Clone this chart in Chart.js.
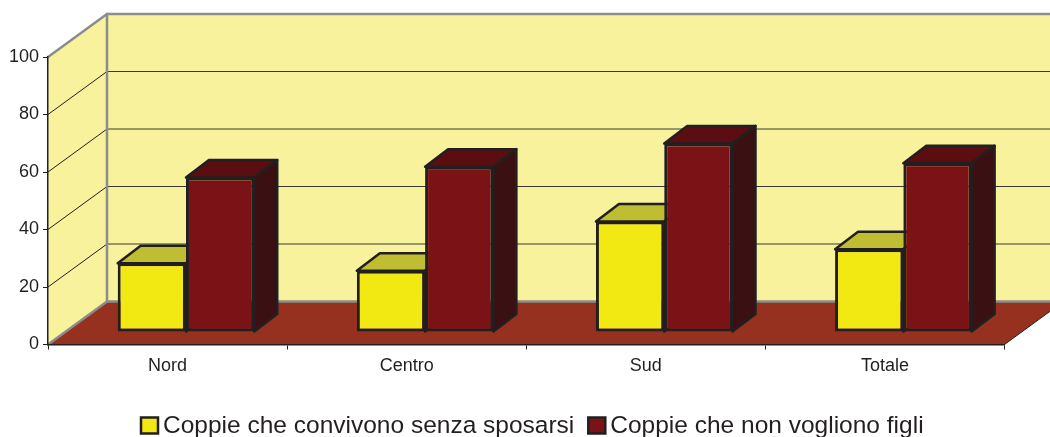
<!DOCTYPE html>
<html>
<head>
<meta charset="utf-8">
<script src="https://cdn.jsdelivr.net/npm/chart.js@4.4.1/dist/chart.umd.min.js"></script>
<style>
html, body { margin: 0; padding: 0; background: #fff; }
canvas { display: block; }
</style>
</head>
<body>
<canvas id="chart" width="1050" height="437"></canvas>
<script>
const categories = ['Nord', 'Centro', 'Sud', 'Totale'];
const conviventi = [23.9, 21.3, 38.4, 28.8];
const senzaFigli = [53.7, 57.5, 65.6, 58.7];
const yTicks = [0, 20, 40, 60, 80, 100];
const seriesNames = ['Coppie che convivono senza sposarsi', 'Coppie che non vogliono figli'];

const FONT = '"Liberation Sans", Arial, sans-serif';
const INK = '#231F20';
const fills = ['#F3E912', '#7B1316'];
const tops = ['#BFBE33', '#5A0E11'];
const sides = ['#A59F10', '#3A1012'];

// 3d look: wall depth, how far back the bars stand, bar thickness
const DEPTH_X = 59, DEPTH_Y = 43;
const SHIFT_X = 18.4, SHIFT_Y = 12.5;
const BAR_DX = 23, BAR_DY = 17.5;

function poly(ctx, pts, fill, stroke, lw) {
    ctx.beginPath();
    ctx.moveTo(pts[0][0], pts[0][1]);
    for (let i = 1; i < pts.length; i++) ctx.lineTo(pts[i][0], pts[i][1]);
    ctx.closePath();
    if (fill) { ctx.fillStyle = fill; ctx.fill(); }
    if (stroke) { ctx.strokeStyle = stroke; ctx.lineWidth = lw; ctx.stroke(); }
}

function line(ctx, x1, y1, x2, y2, color, lw) {
    ctx.beginPath();
    ctx.moveTo(x1, y1);
    ctx.lineTo(x2, y2);
    ctx.strokeStyle = color;
    ctx.lineWidth = lw;
    ctx.stroke();
}

const walls = {
    id: 'walls',
    beforeDraw(chart) {
        const ctx = chart.ctx;
        const a = chart.chartArea;
        const ys = chart.scales.y;
        const L = a.left, R = a.right;
        const y0 = ys.getPixelForValue(0), yTop = ys.getPixelForValue(100);
        const far = chart.width + 20;
        ctx.save();
        // back wall + left wall
        poly(ctx, [[L + DEPTH_X, yTop - DEPTH_Y], [far, yTop - DEPTH_Y], [far, y0 - DEPTH_Y], [L + DEPTH_X, y0 - DEPTH_Y]], '#F7F29B');
        poly(ctx, [[L, yTop], [L + DEPTH_X, yTop - DEPTH_Y], [L + DEPTH_X, y0 - DEPTH_Y], [L, y0]], '#F7F29B');
        // floor
        poly(ctx, [[L, y0], [L + DEPTH_X, y0 - DEPTH_Y], [R + DEPTH_X, y0 - DEPTH_Y], [R, y0]], '#97311F');
        line(ctx, R, y0, R + DEPTH_X, y0 - DEPTH_Y, INK, 1);
        // gridlines on the walls
        yTicks.forEach(v => {
            if (v === 0 || v === 100) return;
            const y = ys.getPixelForValue(v);
            line(ctx, L, y, L + DEPTH_X, y - DEPTH_Y, INK, 1);
            line(ctx, L + DEPTH_X, y - DEPTH_Y, far, y - DEPTH_Y, '#3a3a30', 1);
        });
        // grey frame
        ctx.lineCap = 'round';
        line(ctx, L, yTop, L + DEPTH_X, yTop - DEPTH_Y, '#8C8C8C', 2.5);
        line(ctx, L + DEPTH_X, yTop - DEPTH_Y, far, yTop - DEPTH_Y, '#8C8C8C', 2.5);
        line(ctx, L + DEPTH_X, yTop - DEPTH_Y, L + DEPTH_X, y0 - DEPTH_Y, '#8C8C8C', 2.5);
        line(ctx, L, y0, L + DEPTH_X, y0 - DEPTH_Y, '#8C8C8C', 2.5);
        line(ctx, L + DEPTH_X, y0 - DEPTH_Y, R + DEPTH_X, y0 - DEPTH_Y, '#8C8C8C', 2.5);
        ctx.restore();
    },
    beforeDatasetsDraw(chart) {
        const ctx = chart.ctx;
        ctx.save();
        ctx.translate(SHIFT_X, -SHIFT_Y);
        ctx.lineJoin = 'round';
        // tops and sides first, the front faces from Chart.js cover what is hidden
        chart.data.datasets.forEach((ds, i) => {
            chart.getDatasetMeta(i).data.forEach(bar => {
                const left = bar.x - bar.width / 2, right = bar.x + bar.width / 2;
                const top = Math.min(bar.y, bar.base), base = Math.max(bar.y, bar.base);
                poly(ctx, [[left, top], [left + BAR_DX, top - BAR_DY], [right + BAR_DX, top - BAR_DY], [right, top]], tops[i], INK, 2.5);
                poly(ctx, [[right, top], [right + BAR_DX, top - BAR_DY], [right + BAR_DX, base - BAR_DY], [right, base]], sides[i], INK, 2.5);
            });
        });
    },
    afterDatasetsDraw(chart) {
        chart.ctx.restore();
    },
    afterDraw(chart) {
        // legend, drawn by hand to keep the tight spacing of the original
        const ctx = chart.ctx;
        ctx.save();
        ctx.font = '24.5px ' + FONT;
        ctx.textBaseline = 'alphabetic';
        let x = 141;
        const base = 433;
        seriesNames.forEach((name, i) => {
            ctx.fillStyle = fills[i];
            ctx.fillRect(x, 417.5, 17, 16);
            ctx.strokeStyle = INK;
            ctx.lineWidth = 2.5;
            ctx.strokeRect(x, 417.5, 17, 16);
            x += 17 + 5;
            ctx.fillStyle = INK;
            ctx.fillText(name, x, base);
            x += ctx.measureText(name).width + 14;
        });
        ctx.restore();
    }
};

new Chart(document.getElementById('chart'), {
    type: 'bar',
    data: {
        labels: categories,
        datasets: [
            { label: seriesNames[0], data: conviventi, backgroundColor: fills[0] },
            { label: seriesNames[1], data: senzaFigli, backgroundColor: fills[1] }
        ]
    },
    options: {
        responsive: false,
        animation: false,
        devicePixelRatio: 1,
        layout: { padding: { top: 57, right: 45.5, bottom: 52.5, left: 0 } },
        datasets: {
            bar: {
                borderColor: INK,
                borderWidth: 3,
                borderSkipped: false,
                barPercentage: 1,
                categoryPercentage: 0.571,
                clip: false
            }
        },
        plugins: {
            legend: { display: false },
            tooltip: { enabled: false }
        },
        scales: {
            x: {
                grid: { drawOnChartArea: false, tickLength: 5, color: INK, offset: true },
                border: { color: INK, width: 1.5 },
                ticks: { color: INK, font: { family: FONT, size: 18 }, padding: 6 },
                afterFit: s => { s.height = 40; }
            },
            y: {
                min: 0,
                max: 100,
                afterBuildTicks: s => { s.ticks = yTicks.map(v => ({ value: v })); },
                grid: { drawOnChartArea: false, tickLength: 5, color: INK },
                border: { color: INK, width: 1.5 },
                ticks: { color: INK, font: { family: FONT, size: 18 }, padding: 4 },
                afterFit: s => { s.width = 48; }
            }
        }
    },
    plugins: [walls]
});
</script>
</body>
</html>
